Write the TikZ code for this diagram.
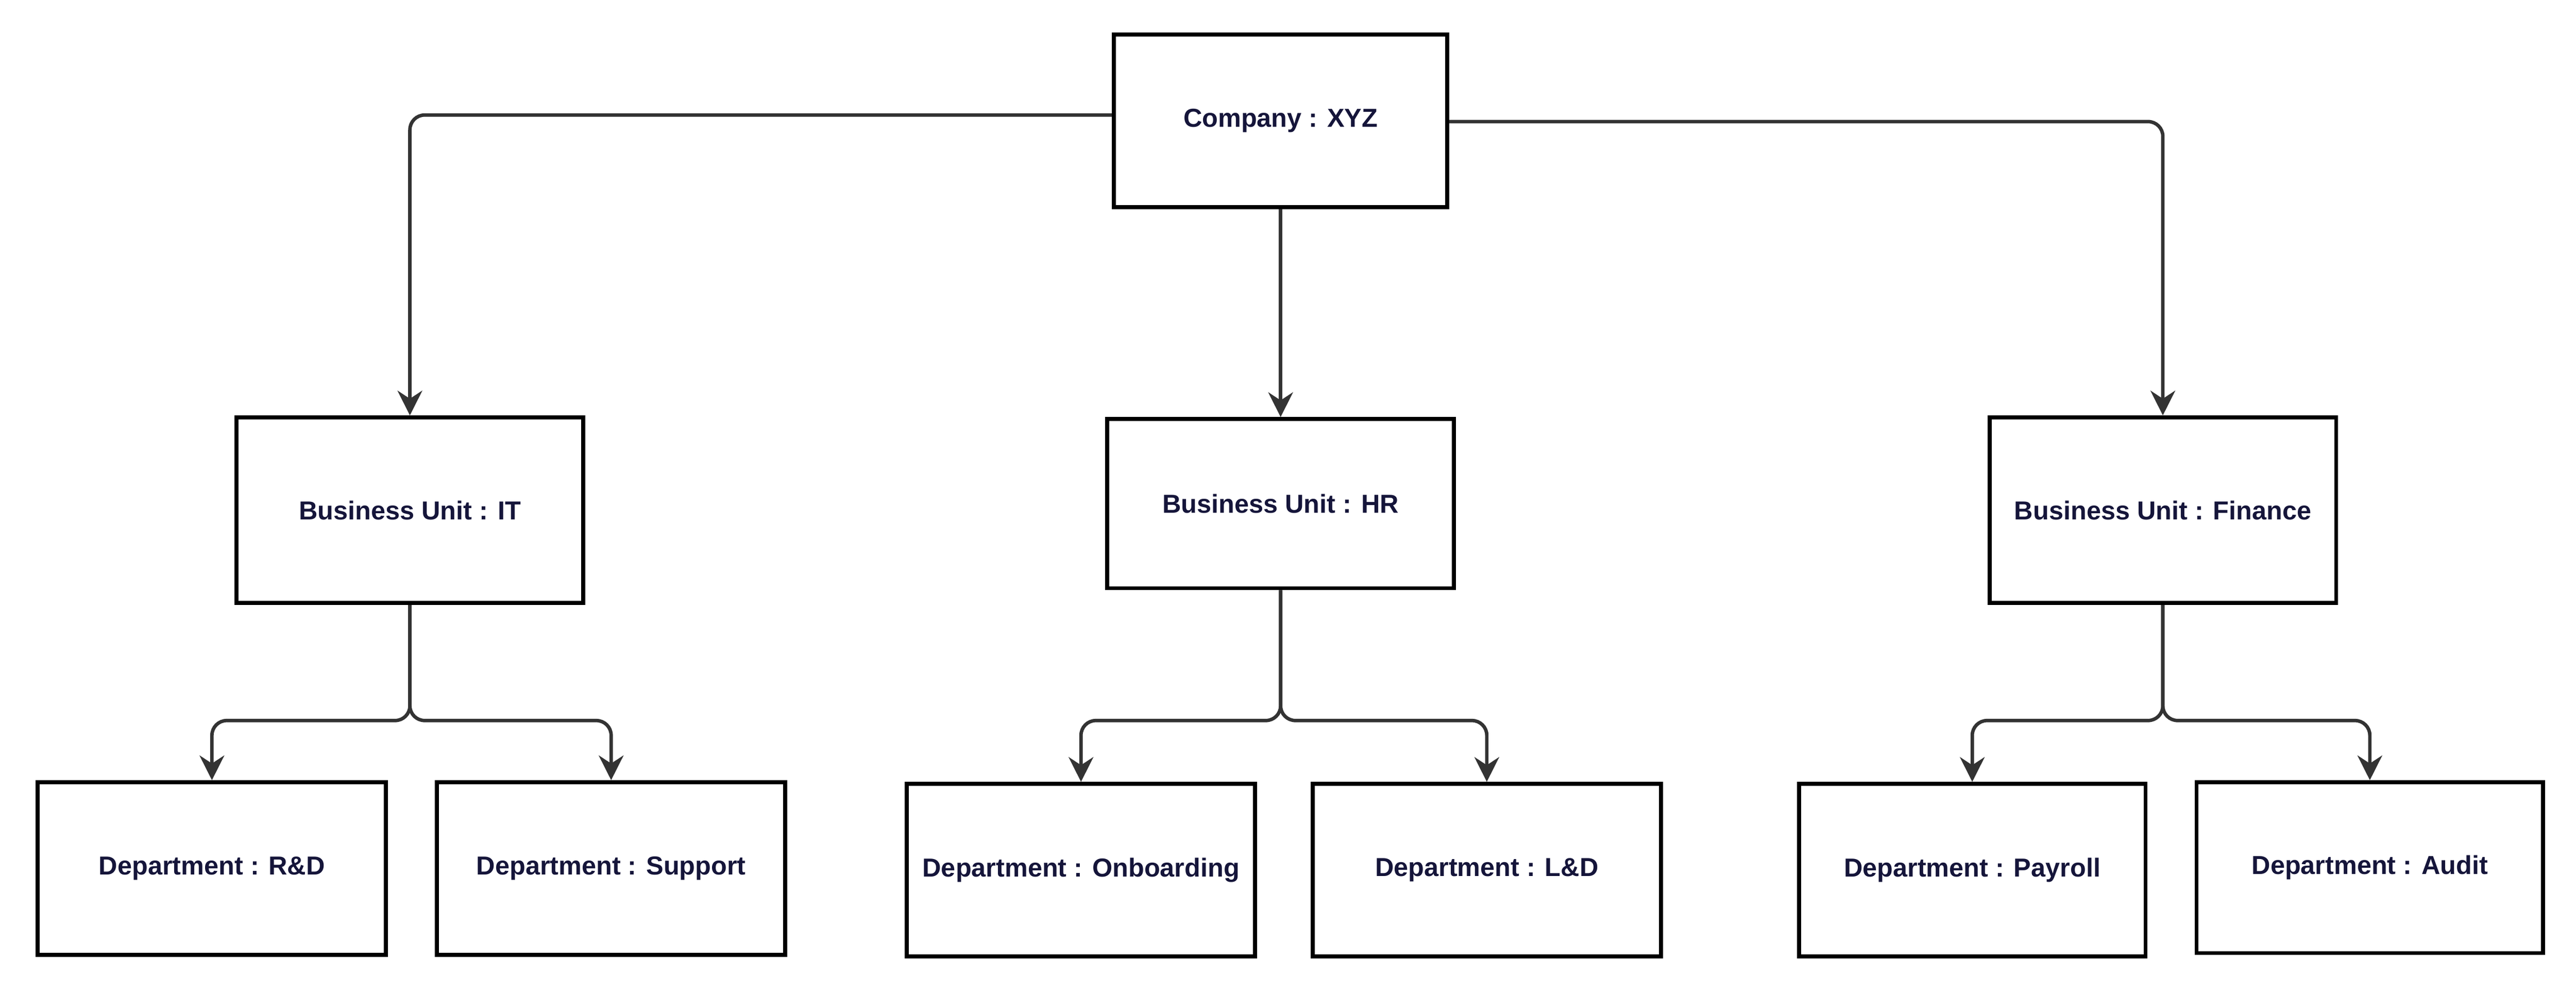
\documentclass[tikz,border=0pt]{standalone}
\usepackage{fontspec}
\setmainfont{Liberation Sans}
\usetikzlibrary{arrows.meta}
\definecolor{txt}{HTML}{15153A}
\definecolor{ln}{HTML}{333333}
\begin{document}
\begin{tikzpicture}[x=0.02cm,y=-0.02cm,
 box/.style={draw=black,line width=1.4pt,minimum width=4.22cm,minimum height=2.1cm,inner sep=0pt,font=\fontsize{9}{11}\selectfont\bfseries,text=txt},
 con/.style={draw=ln,line width=1.2pt,rounded corners=0.18cm,-{Stealth[length=0.3cm,width=0.3cm]}}]
\useasboundingbox (0,0) rectangle (1568,604);
\node[box,minimum width=4.06cm] (c) at (779.5,73.5) {Company : XYZ};
\node[box,minimum height=2.26cm] (it) at (249.5,310.5) {Business Unit : IT};
\node[box,minimum height=2.06cm] (hr) at (779.5,306.5) {Business Unit : HR};
\node[box,minimum height=2.26cm] (fi) at (1316.5,310.5) {Business Unit : Finance};
\node[box,minimum width=4.24cm] (rd) at (129,528.5) {Department : R\&D};
\node[box,minimum width=4.24cm] (su) at (372,528.5) {Department : Support};
\node[box,minimum width=4.24cm] (on) at (658,529.5) {Department : Onboarding};
\node[box,minimum width=4.24cm] (ld) at (905,529.5) {Department : L\&D};
\node[box] (pa) at (1200.5,529.5) {Department : Payroll};
\node[box,minimum height=2.08cm] (au) at (1442.5,528) {Department : Audit};
\draw[con] (c.west|-0,70) -| (it.north);
\draw[con] (c.east|-0,74) -| (fi.north);
\draw[con] (c) -- (hr);
\foreach \p/\a/\b in {it/rd/su,hr/on/ld,fi/pa/au}{
 \draw[con] (\p.south) |- ([yshift=-0.35cm]\p.south|-0,421) -| (\a.north);
 \draw[con] (\p.south) |- ([yshift=-0.35cm]\p.south|-0,421) -| (\b.north);
}
\end{tikzpicture}
\end{document}
